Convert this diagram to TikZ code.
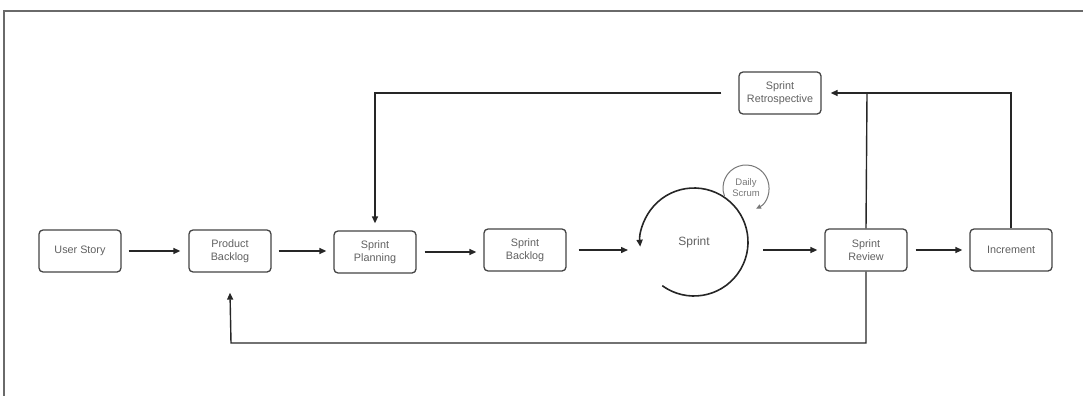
\documentclass[tikz,border=0pt]{standalone}
\usepackage{fontspec}
\setmainfont{Liberation Sans}
\usetikzlibrary{arrows.meta}
\definecolor{boxc}{HTML}{444444}
\definecolor{txtc}{HTML}{606060}
\definecolor{framec}{HTML}{6A6A6A}
\definecolor{scrumc}{HTML}{777777}
\tikzset{
  stepbox/.style={draw=boxc, line width=1.3pt, rounded corners=4pt, minimum width=82pt, minimum height=42pt, align=center, text=txtc, font=\fontsize{10.8}{12.5}\selectfont, inner sep=1pt},
  flow/.style={draw=black!85, line width=1.4pt, -{Triangle[length=7pt,width=6pt]}},
  link/.style={draw=black!85, line width=1.4pt}
}
\begin{document}
\begin{tikzpicture}[x=1pt,y=-1pt]
\useasboundingbox (0,0) rectangle (1083,396);
\draw[framec, line width=2pt] (1083,11) -- (4,11) -- (4,396);
\node[stepbox] (us) at (80,251) {User Story};
\node[stepbox] (pb) at (230,251) {Product\\Backlog};
\node[stepbox] (sp) at (375,252) {Sprint\\Planning};
\node[stepbox] (sb) at (525,250) {Sprint\\Backlog};
\node[text=txtc, font=\fontsize{12}{14}\selectfont] (sprint) at (694,242) {Sprint};
\node[stepbox] (sr) at (866,250) {Sprint\\Review};
\node[stepbox] (inc) at (1011,250) {Increment};
\node[stepbox] (retro) at (780,93) {Sprint\\Retrospective};
\node[text=scrumc, font=\fontsize{9.5}{11}\selectfont, align=center, inner sep=0pt] (daily) at (746,188) {Daily\\Scrum};
% sprint cycle
\coordinate (sc) at (694,242);
\draw[black!85, line width=1.6pt, -{Triangle[length=7pt,width=6pt]}] ([shift={(234:54pt)}]sc) arc[start angle=234, end angle=545, radius=54pt];
% daily scrum
\draw[scrumc, line width=1pt, -{Triangle[length=5pt,width=4.5pt]}] ([shift={(200:23pt)}]daily) arc[start angle=200, end angle=-64, radius=23pt];
% flow arrows
\coordinate (sin) at (628,250);
\coordinate (sout) at (763,250);
\draw[flow] ([xshift=7pt]us.east) -- ([xshift=-8pt]pb.west);
\draw[flow] ([xshift=7pt]pb.east) -- ([xshift=-7pt]pb.east -| sp.west);
\draw[flow] ([xshift=8pt]sp.east) -- ([xshift=-7pt]sp.east -| sb.west);
\draw[flow] ([xshift=12pt]sb.east) -- (sin);
\draw[flow] (sout) -- ([xshift=-7pt]sr.west);
\draw[flow] ([xshift=8pt]sr.east) -- ([xshift=-7pt]inc.west);
% feedback loops
\coordinate (j1) at (867,93);
\draw[link] (sr.north) -- (j1);
\draw[flow] (inc.north) |- ([xshift=9pt]retro.east);
\draw[flow] ([xshift=-17pt]retro.west) -| ([yshift=7pt]sp.north);
\coordinate (lo) at (231,343);
\draw[flow] (sr.south) |- (lo) -- ([yshift=-20pt]pb.south);
\end{tikzpicture}
\end{document}
